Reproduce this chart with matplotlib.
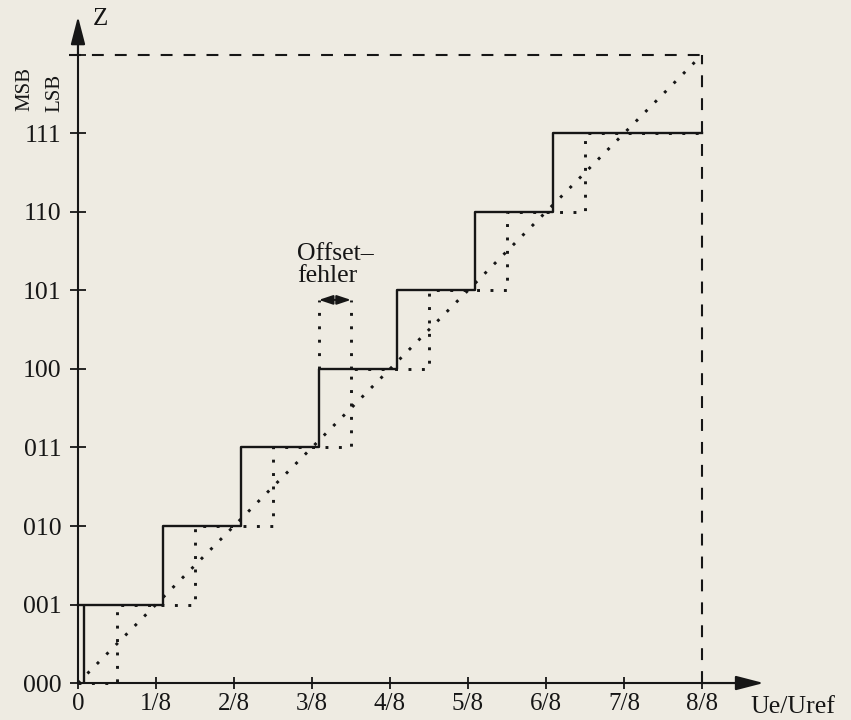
import matplotlib
matplotlib.use("Agg")
import matplotlib.pyplot as plt

# ---- data ----
code_labels = ['000', '001', '010', '011', '100', '101', '110', '111']
code_values = [0, 1, 2, 3, 4, 5, 6, 7]
x_tick_values = [0, 1/8, 2/8, 3/8, 4/8, 5/8, 6/8, 7/8, 8/8]
x_tick_labels = ['0', '1/8', '2/8', '3/8', '4/8', '5/8', '6/8', '7/8', '8/8']
# transition points (Ue/Uref)
ideal_thresholds = [0.0625, 0.1875, 0.3125, 0.4375, 0.5625, 0.6875, 0.8125]
offset_thresholds = [0.010, 0.136, 0.261, 0.386, 0.512, 0.637, 0.761]
full_scale = 1.0
full_code = 8
offset_marker_top = 4.88

FONT = 'Liberation Serif'
INK = '#161616'
BG = '#eeebe2'

fig = plt.figure(figsize=(8.51, 7.2), dpi=100, facecolor=BG)
ax = fig.add_axes([0, 0, 1, 1], facecolor=BG)
ax.set_xlim(-0.125, 1.239)
ax.set_ylim(-0.471, 8.70)

for s in ['top', 'right']:
    ax.spines[s].set_visible(False)
ax.spines['left'].set_position(('data', 0))
ax.spines['bottom'].set_position(('data', 0))
ax.spines['left'].set_bounds(0, 8.2)
ax.spines['bottom'].set_bounds(0, 1.07)
for s in ['left', 'bottom']:
    ax.spines[s].set_linewidth(1.5)
    ax.spines[s].set_color(INK)

ax.set_xticks(x_tick_values)
ax.set_xticklabels(x_tick_labels, fontfamily=FONT, fontsize=18, color=INK)
ax.set_yticks(code_values + [full_code])
ax.set_yticklabels(code_labels + [''], fontfamily=FONT, fontsize=18.5, color=INK)
ax.tick_params(axis='x', direction='inout', length=8.6, width=1.3, color=INK, pad=3)
ax.tick_params(axis='y', direction='inout', length=12, width=1.3, color=INK, pad=6)

# axis arrows
ap = dict(arrowstyle='-|>,head_length=0.85,head_width=0.22', mutation_scale=20,
          color=INK, lw=1.5, shrinkA=0, shrinkB=0)
ax.annotate('', xy=(0, 8.49), xytext=(0, 8.0), arrowprops=ap, annotation_clip=False)
ax.annotate('', xy=(1.099, 0), xytext=(1.0, 0), arrowprops=ap, annotation_clip=False)

# dashed full-scale frame
dash = (0, (5.7, 5.3))
ax.plot([-0.014, full_scale], [full_code, full_code], color=INK, lw=1.5, linestyle=dash)
ax.plot([full_scale, full_scale], [0, full_code], color=INK, lw=1.5, linestyle=dash)

dot = (0, (1, 3.6))
# ideal straight characteristic
ax.plot([0, full_scale], [0, full_code], color=INK, lw=2.1, linestyle=dot)

# ideal staircase (dotted)
ix = [0] + ideal_thresholds + [full_scale]
iy = [0] + code_values[1:] + [code_values[-1]]
ax.step(ix, iy, where='post', color=INK, lw=2.1, linestyle=dot)

# staircase with offset error (solid)
sx = [0] + offset_thresholds[1:] + [full_scale]
sy = code_values[1:] + [code_values[-1]]
ax.step(sx, sy, where='post', color=INK, lw=1.7, zorder=3)
ax.vlines(offset_thresholds[0], 0, code_values[1], color=INK, lw=1.7, zorder=3)

# offset marker
ax.vlines([offset_thresholds[3], ideal_thresholds[3]], code_values[4], offset_marker_top,
          color=INK, lw=2.1, linestyles=[dot])
ax.annotate('', xy=(offset_thresholds[3], offset_marker_top),
            xytext=(ideal_thresholds[3], offset_marker_top),
            arrowprops=dict(arrowstyle='<|-|>,head_length=0.6,head_width=0.2',
                            mutation_scale=14, color=INK, lw=1.4,
                            shrinkA=0, shrinkB=0))
ax.text(0.351, 5.39, 'Offset\u2013', fontfamily=FONT, fontsize=18.5, color=INK,
        ha='left', va='baseline')
ax.text(0.351, 5.11, 'fehler', fontfamily=FONT, fontsize=18.5, color=INK,
        ha='left', va='baseline')

# axis labels
ax.text(0.024, 8.38, 'Z', fontfamily=FONT, fontsize=18, color=INK,
        ha='left', va='baseline')
ax.text(1.077, -0.382, 'Ue/Uref', fontfamily=FONT, fontsize=18.5, color=INK,
        ha='left', va='baseline')
ax.text(-0.085, 7.57, 'MSB', fontfamily=FONT, fontsize=15, color=INK,
        ha='center', va='center', rotation=90)
ax.text(-0.037, 7.52, 'LSB', fontfamily=FONT, fontsize=15, color=INK,
        ha='center', va='center', rotation=90)

fig.savefig('out.png', dpi=100, facecolor=BG)
